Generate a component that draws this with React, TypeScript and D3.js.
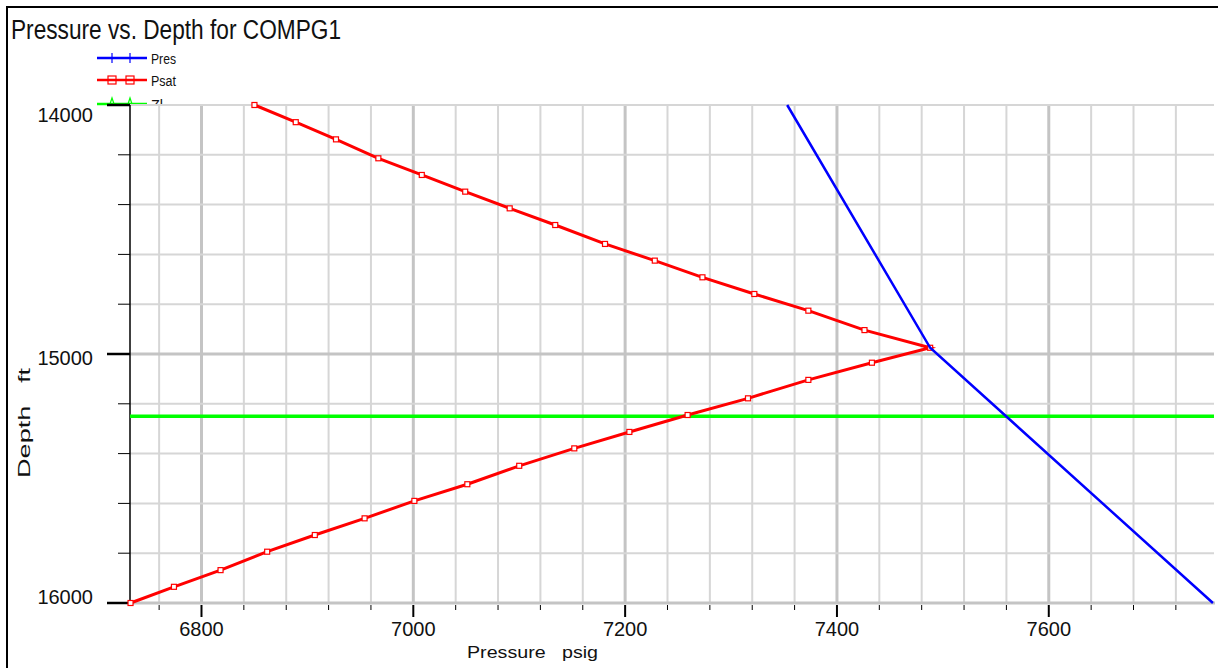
import React, { useEffect, useRef } from 'react';
import * as d3 from 'd3';

// Psat readings (depth ft, pressure psig), top branch then bottom branch
const psatDepth = [
  14000, 14069, 14138, 14214, 14281, 14348, 14415, 14482, 14558, 14625, 14692, 14759, 14826, 14904, 14975,
  15035, 15104, 15178, 15245, 15313, 15379, 15449, 15523, 15590, 15660, 15727, 15794, 15868, 15935, 16000,
];
const psatValues = [
  6850, 6889, 6927, 6967, 7008, 7049, 7091, 7134, 7181, 7228, 7273, 7322, 7373, 7426, 7488,
  7433, 7373, 7316, 7259, 7204, 7152, 7100, 7051, 7001, 6954, 6907, 6862, 6818, 6774, 6733,
];

// Pres
const presDepth = [14000, 14975, 16000];
const presValues = [7353, 7488, 7755];

// Zl (contact depth)
const zlDepth = [15250, 15250];
const zlValues = [6732.5, 7756];

const xTicks = [6800, 7000, 7200, 7400, 7600];
const yTicks = [14000, 15000, 16000];

const legendItems = ['Pres', 'Psat', 'Zl'];
const legendColors = ['#0000ff', '#ff0000', '#00ff00'];

const App = () => {
  const svgRef = useRef<SVGSVGElement | null>(null);

  useEffect(() => {
    const width = 1218;
    const height = 668;
    const left = 130;
    const right = 1214;
    const top = 105;
    const bottom = 603;
    const font = '"Liberation Sans", Arial, sans-serif';

    const svg = d3.select(svgRef.current);
    svg.selectAll('*').remove();
    svg.attr('width', width).attr('height', height);

    svg.append('rect').attr('width', width).attr('height', height).attr('fill', '#fff');

    // outer frame
    svg.append('path')
      .attr('d', `M7,${height}V7H${width}`)
      .attr('fill', 'none')
      .attr('stroke', '#000')
      .attr('stroke-width', 2);

    const x = d3.scaleLinear().domain([6732.5, 7756]).range([left, right]);
    const y = d3.scaleLinear().domain([14000, 16000]).range([top, bottom]);

    // title
    svg.append('text')
      .attr('x', 11)
      .attr('y', 39)
      .attr('font-family', font)
      .attr('font-size', 27)
      .attr('fill', '#111')
      .attr('textLength', 330)
      .attr('lengthAdjust', 'spacingAndGlyphs')
      .text('Pressure vs. Depth for COMPG1');

    // legend
    const legendY = [58, 80, 104];
    legendItems.forEach((name, i) => {
      const ly = legendY[i];
      const c = legendColors[i];
      svg.append('line')
        .attr('x1', 97).attr('x2', 147).attr('y1', ly).attr('y2', ly)
        .attr('stroke', c).attr('stroke-width', 2.5);
      [112, 130].forEach((mx) => {
        if (i === 0) {
          svg.append('line').attr('x1', mx).attr('x2', mx).attr('y1', ly - 5).attr('y2', ly + 5)
            .attr('stroke', c).attr('stroke-width', 1.2);
        } else if (i === 1) {
          svg.append('rect').attr('x', mx - 4).attr('y', ly - 4).attr('width', 8).attr('height', 8)
            .attr('fill', 'none').attr('stroke', c).attr('stroke-width', 1.2);
        } else {
          svg.append('path').attr('d', `M${mx - 2},${ly}L${mx},${ly - 6}L${mx + 2},${ly}`)
            .attr('fill', 'none').attr('stroke', c).attr('stroke-width', 1.2);
        }
      });
      svg.append('text')
        .attr('x', 151)
        .attr('y', ly + 6)
        .attr('font-family', font)
        .attr('font-size', 14)
        .attr('fill', '#111')
        .attr('textLength', name === 'Zl' ? 12 : 25)
        .attr('lengthAdjust', 'spacingAndGlyphs')
        .text(name);
    });

    // plot area covers the legend overflow
    svg.append('rect')
      .attr('x', left).attr('y', top).attr('width', right - left + 4).attr('height', bottom - top)
      .attr('fill', '#fff');

    // grid
    const g = svg.append('g');
    d3.range(6760, 7756, 40).forEach((v) => {
      const major = v % 200 === 0;
      g.append('line')
        .attr('x1', x(v)).attr('x2', x(v)).attr('y1', top).attr('y2', bottom)
        .attr('stroke', major ? '#c4c4c4' : '#d6d6d6')
        .attr('stroke-width', major ? 3 : 2);
    });
    d3.range(14000, 16000, 200).forEach((v) => {
      const major = v === 15000;
      g.append('line')
        .attr('x1', left).attr('x2', right).attr('y1', y(v)).attr('y2', y(v))
        .attr('stroke', major ? '#c4c4c4' : '#d6d6d6')
        .attr('stroke-width', major ? 3 : 2);
    });

    // bottom axis
    g.append('line')
      .attr('x1', left).attr('x2', right + 1).attr('y1', bottom).attr('y2', bottom)
      .attr('stroke', '#c4c4c4').attr('stroke-width', 3);
    d3.range(6760, 7756, 40).forEach((v) => {
      const major = v % 200 === 0;
      g.append('line')
        .attr('x1', x(v)).attr('x2', x(v)).attr('y1', bottom + 2).attr('y2', major ? bottom + 14 : bottom + 7)
        .attr('stroke', '#000').attr('stroke-width', major ? 2 : 1);
    });
    xTicks.forEach((v) => {
      g.append('text')
        .attr('x', x(v)).attr('y', 636)
        .attr('text-anchor', 'middle')
        .attr('font-family', font).attr('font-size', 20).attr('fill', '#111')
        .text(v);
    });

    // left axis
    g.append('line')
      .attr('x1', left).attr('x2', left).attr('y1', top).attr('y2', bottom)
      .attr('stroke', '#000').attr('stroke-width', 1.5);
    d3.range(14000, 16001, 200).forEach((v) => {
      const major = yTicks.includes(v);
      g.append('line')
        .attr('x1', major ? 107 : 118).attr('x2', left).attr('y1', y(v)).attr('y2', y(v))
        .attr('stroke', '#000').attr('stroke-width', major ? 2.5 : 1);
    });
    yTicks.forEach((v) => {
      const base = Math.max(top + 17, Math.min(bottom + 1, y(v) + 11));
      g.append('text')
        .attr('x', 93).attr('y', base)
        .attr('text-anchor', 'end')
        .attr('font-family', font).attr('font-size', 20).attr('fill', '#111')
        .text(v);
    });

    // axis titles
    svg.append('text')
      .attr('x', 467).attr('y', 658)
      .attr('font-family', font).attr('font-size', 16).attr('fill', '#111')
      .attr('textLength', 131).attr('lengthAdjust', 'spacingAndGlyphs')
      .style('white-space', 'pre')
      .text('Pressure   psig');
    svg.append('text')
      .attr('transform', 'translate(30,478) rotate(-90)')
      .attr('font-family', font).attr('font-size', 16).attr('fill', '#111')
      .attr('textLength', 110).attr('lengthAdjust', 'spacingAndGlyphs')
      .style('white-space', 'pre')
      .text('Depth   ft');

    // series
    const line = d3.line<[number, number]>()
      .x((d) => x(d[0]))
      .y((d) => y(d[1]));

    const zl = zlValues.map((p, i) => [p, zlDepth[i]] as [number, number]);
    svg.append('path').attr('d', line(zl)).attr('fill', 'none')
      .attr('stroke', '#00ff00').attr('stroke-width', 3.5);

    const psat = psatValues.map((p, i) => [p, psatDepth[i]] as [number, number]);
    svg.append('path').attr('d', line(psat)).attr('fill', 'none')
      .attr('stroke', '#ff0000').attr('stroke-width', 3);
    svg.selectAll('rect.psat')
      .data(psat)
      .enter()
      .append('rect')
      .attr('class', 'psat')
      .attr('x', (d) => x(d[0]) - 2.5)
      .attr('y', (d) => y(d[1]) - 2.5)
      .attr('width', 5)
      .attr('height', 5)
      .attr('fill', '#fff')
      .attr('stroke', '#ff0000')
      .attr('stroke-width', 1.2);

    const pres = presValues.map((p, i) => [p, presDepth[i]] as [number, number]);
    svg.append('path').attr('d', line(pres)).attr('fill', 'none')
      .attr('stroke', '#0000ff').attr('stroke-width', 2.5);
  }, []);

  return (
    <svg
      ref={svgRef}
      style={{ position: 'absolute', left: 0, top: 0, display: 'block' }}
    />
  );
};

export default App;
